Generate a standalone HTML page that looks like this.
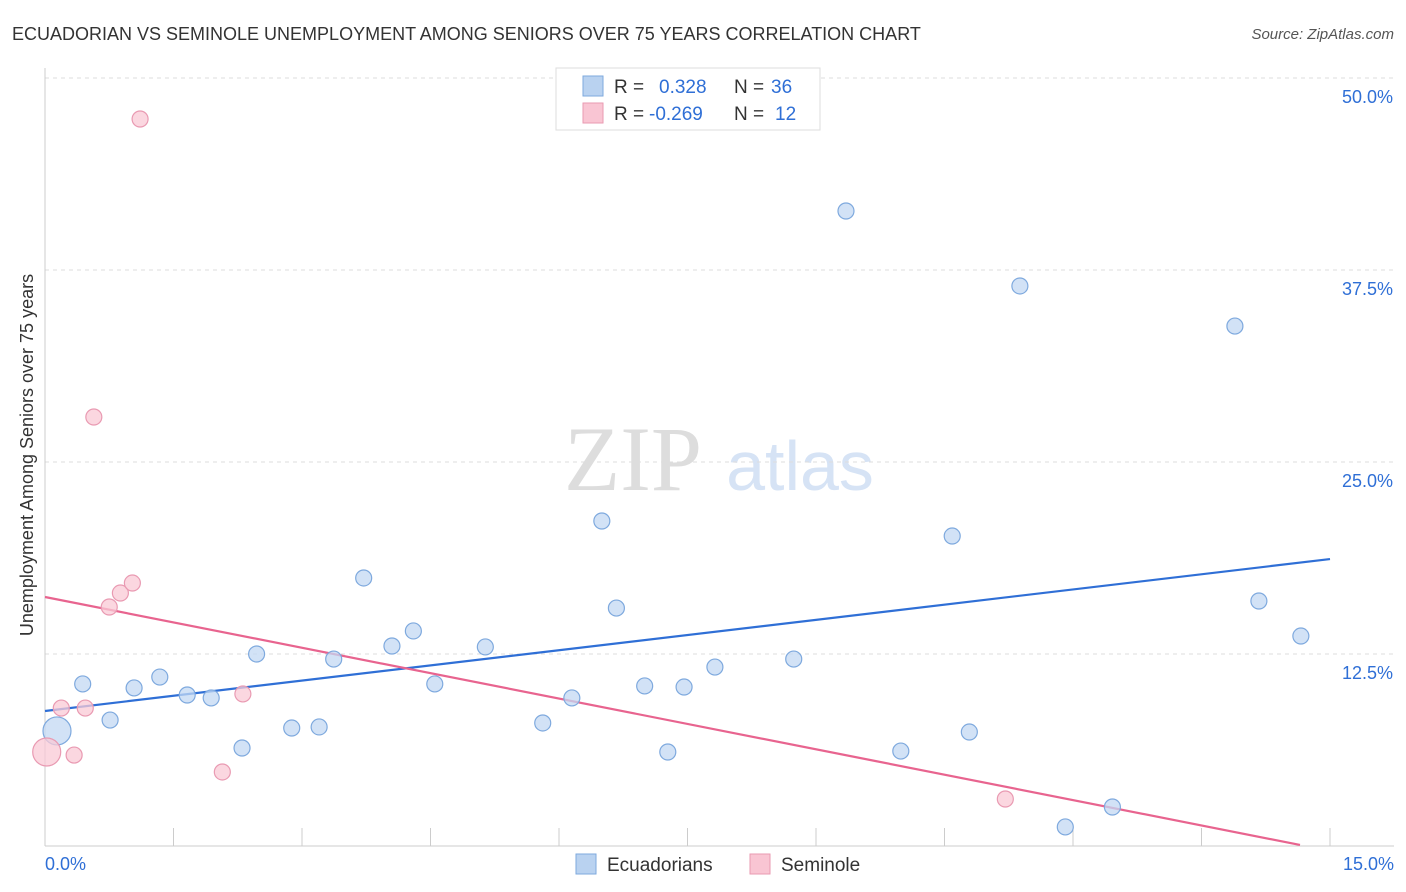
<!DOCTYPE html>
<html><head><meta charset="utf-8"><style>
body{margin:0;background:#fff;font-family:"Liberation Sans",sans-serif;}
svg{display:block}
</style></head><body>
<svg id="c" width="1406" height="892" xmlns="http://www.w3.org/2000/svg">
<text x="12" y="40" font-size="18" fill="#333">ECUADORIAN VS SEMINOLE UNEMPLOYMENT AMONG SENIORS OVER 75 YEARS CORRELATION CHART</text>
<text x="1394" y="39" font-size="15" fill="#555" text-anchor="end" font-style="italic">Source: ZipAtlas.com</text>
<text x="633" y="490" font-size="92" fill="#ddd" font-family="Liberation Serif,serif" text-anchor="middle">ZIP</text>
<text x="800" y="490" font-size="70" fill="#d6e3f5" text-anchor="middle">atlas</text>
<text transform="translate(33,455) rotate(-90)" font-size="18" fill="#333" text-anchor="middle">Unemployment Among Seniors over 75 years</text>
<g id="grid"></g><g id="lines"></g><g id="pts"></g>
<g>
<rect x="556" y="68" width="264" height="62" fill="#fff" stroke="#ddd"/>
<rect x="583" y="76" width="20" height="20" fill="#b9d2f0" stroke="#7ea9de"/>
<rect x="583" y="103" width="20" height="20" fill="#f9c5d3" stroke="#e99ab2"/>
<text x="614" y="93" font-size="19" fill="#333">R = </text><text x="659" y="93" font-size="19" fill="#2f6fd6">0.328</text>
<text x="734" y="93" font-size="19" fill="#333">N = </text><text x="771" y="93" font-size="19" fill="#2f6fd6">36</text>
<text x="614" y="120" font-size="19" fill="#333">R = </text><text x="649" y="120" font-size="19" fill="#2f6fd6">-0.269</text>
<text x="734" y="120" font-size="19" fill="#333">N = </text><text x="775" y="120" font-size="19" fill="#2f6fd6">12</text>
</g>
<g>
<rect x="576" y="854" width="20" height="20" fill="#b9d2f0" stroke="#7ea9de"/>
<text x="607" y="871" font-size="19" fill="#333">Ecuadorians</text>
<rect x="750" y="854" width="20" height="20" fill="#f9c5d3" stroke="#e99ab2"/>
<text x="781" y="871" font-size="19" fill="#333">Seminole</text>
</g>
</svg>
<script>
const yTicks=[12.5,25,37.5,50];
const yTickLabels=["12.5%","25.0%","37.5%","50.0%"];
const xTickLabels=["0.0%","15.0%"];
const ecuX=[0.14,0.44,0.76,1.04,1.34,1.66,1.94,2.30,2.47,2.88,3.20,3.37,3.72,4.05,4.30,4.55,5.14,5.81,6.15,6.50,6.67,7.00,7.27,7.46,7.82,8.74,9.35,9.99,10.59,10.79,11.38,11.91,12.46,13.89,14.17,14.66];
const ecuY=[7.49,10.55,8.20,10.29,11.00,9.83,9.64,6.38,12.50,7.68,7.75,12.17,17.45,13.02,14.00,10.55,12.96,8.01,9.64,21.16,15.49,10.42,6.12,10.35,11.65,12.17,41.34,6.18,20.18,7.42,36.46,1.24,2.54,33.85,15.95,13.67];
const semX=[0.02,0.19,0.34,0.47,0.57,0.75,0.88,1.02,1.11,2.07,2.31,11.21];
const semY=[6.12,8.98,5.92,8.98,27.93,15.56,16.47,17.12,47.33,4.82,9.90,3.06];
const ecuTrend=[[0,8.79],[15,18.68]];
const semTrend=[[0,16.21],[14.65,0.07]];
const NS="http://www.w3.org/2000/svg";
const X=v=>45+v/15*1285, Y=v=>846-v/12.5*192;
function mk(t,a,p){const e=document.createElementNS(NS,t);for(const k in a)e.setAttribute(k,a[k]);p.appendChild(e);return e;}
const g=document.getElementById('grid'),L=document.getElementById('lines'),P=document.getElementById('pts');
yTicks.forEach((t,i)=>{
 const l=mk('line',{x1:45,x2:1394,y1:Y(t),y2:Y(t),stroke:'#ddd','stroke-dasharray':'4,4'},g);
 
 
 const tx=mk('text',{x:1393,y:Y(t)+25,'font-size':18,fill:'#2f6fd6','text-anchor':'end'},g);tx.textContent=yTickLabels[i];
 
 
});
const ax=mk('line',{x1:45,x2:45,y1:68,y2:846,stroke:'#ccc'},g);


const bx=mk('line',{x1:45,x2:1394,y1:846,y2:846,stroke:'#ccc'},g);


for(let i=1;i<=10;i++){const t=mk('line',{x1:X(i*1.5),x2:X(i*1.5),y1:828,y2:846,stroke:'#ccc'},g);
 
 }
[[0,'start',45],[15,'end',1394]].forEach((d,i)=>{const t=mk('text',{x:d[2],y:870,'font-size':18,fill:'#2f6fd6','text-anchor':d[1]},g);t.textContent=xTickLabels[i];
 
 });
function dots(xs,ys,f,s,name){xs.forEach((x,i)=>{const r=(i===0)?14:8;
 const c=mk('circle',{cx:X(x),cy:Y(ys[i]),r:r,fill:f,'fill-opacity':0.75,stroke:s,'stroke-width':1.2},P);
 
 });}
dots(ecuX,ecuY,'#c3d8f3','#7ea9de','ecuadorian-point');
dots(semX,semY,'#f9c9d6','#e99ab2','seminole-point');
const l1=mk('line',{x1:X(ecuTrend[0][0]),y1:Y(ecuTrend[0][1]),x2:X(ecuTrend[1][0]),y2:Y(ecuTrend[1][1]),stroke:'#2f6fd6','stroke-width':2.2},L);


const l2=mk('line',{x1:X(semTrend[0][0]),y1:Y(semTrend[0][1]),x2:X(semTrend[1][0]),y2:Y(semTrend[1][1]),stroke:'#e8648f','stroke-width':2.2},L);


</script>
</body></html>
